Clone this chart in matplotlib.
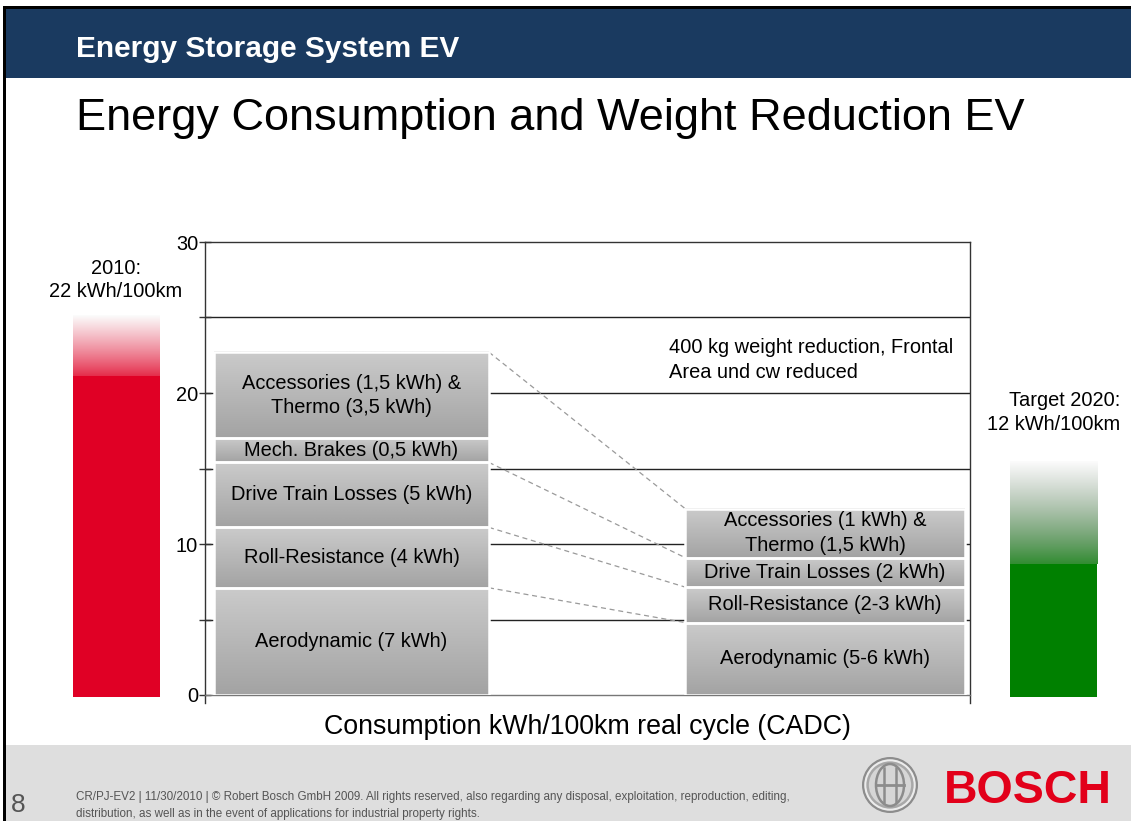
import numpy as np
import matplotlib
matplotlib.use('Agg')
import matplotlib.pyplot as plt
import matplotlib.colors as mcolors
from matplotlib.patches import Rectangle, Circle, Ellipse

plt.rcParams['font.family'] = ['Liberation Sans', 'DejaVu Sans']

W, H = 1131, 821

# consumption breakdown, bottom to top (kWh/100km)
labels_2010 = ['Aerodynamic (7 kWh)', 'Roll-Resistance (4 kWh)', 'Drive Train Losses (5 kWh)',
               'Mech. Brakes (0,5 kWh)', 'Accessories (1,5 kWh) &\nThermo (3,5 kWh)']
values_2010 = [7.1, 4.0, 4.3, 1.6, 5.7]
labels_2020 = ['Aerodynamic (5-6 kWh)', 'Roll-Resistance (2-3 kWh)', 'Drive Train Losses (2 kWh)',
               'Accessories (1 kWh) &\nThermo (1,5 kWh)']
values_2020 = [4.8, 2.35, 1.95, 3.25]
# segment of 2010 joined to segment of 2020 by a dashed line
links = [(0, 0), (1, 1), (2, 2), (4, 3)]

total_2010 = 22
total_2020 = 12
fade_2010 = [21.1, 25.1]   # solid top, faded top
fade_2020 = [8.7, 15.5]

yticks = [0, 10, 20, 30]
ygrid = [5, 10, 15, 20, 25]


def fx(x):
    return x / W


def fy(y):
    return 1 - y / H


fig = plt.figure(figsize=(W / 100, H / 100), dpi=100)
fig.patch.set_facecolor('white')

# slide frame, header and footer
fig.add_artist(Rectangle((fx(4), fy(78)), 1, fy(9) - fy(78), transform=fig.transFigure,
                         fc='#1a3a60', ec='none', zorder=0))
fig.add_artist(Rectangle((fx(3), fy(9)), 1, 2.5 / H, transform=fig.transFigure, fc='black', ec='none'))
fig.add_artist(Rectangle((fx(3), 0), 2.5 / W, fy(7), transform=fig.transFigure, fc='black', ec='none'))
fig.add_artist(Rectangle((fx(5.5), 0), 1, fy(745), transform=fig.transFigure,
                         fc='#dedede', ec='none', zorder=0))

fig.text(fx(76), fy(57), 'Energy Storage System EV', color='white', fontsize=21.5,
         fontweight='bold', va='baseline')
fig.text(fx(76), fy(130), 'Energy Consumption and Weight Reduction EV', fontsize=32.5,
         va='baseline')
fig.text(fx(11), fy(812), '8', fontsize=19, color='#555555', va='baseline')
fig.text(fx(76), fy(805.5),
         'CR/PJ-EV2 | 11/30/2010 | \u00a9 Robert Bosch GmbH 2009. All rights reserved, also regarding any disposal, '
         'exploitation, reproduction, editing,\ndistribution, as well as in the event of applications for '
         'industrial property rights.', fontsize=8.4, color='#555555', va='center', linespacing=1.45)
fig.text(fx(944), fy(803), 'BOSCH', fontsize=33.5, fontweight='bold', color='#e2001a', va='baseline')

# armature emblem
lax = fig.add_axes([fx(862), fy(813), 56 / W, 56 / H])
lax.set_xlim(-1, 1)
lax.set_ylim(-1, 1)
lax.set_aspect('equal')
lax.axis('off')
lax.add_patch(Circle((0, 0), 0.96, fc='#ececec', ec='#8c8c8c', lw=1.6))
lax.add_patch(Circle((0, 0), 0.8, fc='#d6d6d6', ec='#a8a8a8', lw=1.8))
lax.add_patch(Ellipse((0, 0), 1.0, 1.5, fc='none', ec='#8c8c8c', lw=1.8))
lax.plot([-0.22, -0.22], [-0.62, 0.62], color='#8c8c8c', lw=1.8)
lax.plot([0.22, 0.22], [-0.62, 0.62], color='#8c8c8c', lw=1.8)
lax.plot([-0.5, 0.5], [0, 0], color='#8c8c8c', lw=2)

# main chart, x in pixel-like units across the plot box
ax = fig.add_axes([fx(205), fy(695), 765 / W, 453 / H])
ax.set_facecolor('none')


def gradient_box(x0, x1, y0, y1, text):
    bottom = np.array(mcolors.to_rgb('#a3a3a3'))
    top = np.array(mcolors.to_rgb('#cbcbcb'))
    t = np.linspace(0, 1, 64)[:, None]
    img = (bottom + (top - bottom) * t)[:, None, :]
    ax.imshow(img, extent=[x0, x1, y0, y1], origin='lower', aspect='auto', zorder=2,
              interpolation='bilinear')
    ax.add_patch(Rectangle((x0, y0), x1 - x0, y1 - y0, fill=False, ec='white', lw=1.8, zorder=3))
    ax.text((x0 + x1) / 2, (y0 + y1) / 2, text, ha='center', va='center', fontsize=14.4,
            linespacing=1.35, zorder=4)


def fade_bar(x0, x1, solid_top, fade_top, color, desat):
    ax.add_patch(Rectangle((x0, -0.15), x1 - x0, solid_top + 0.15, fc=color, ec='none',
                           clip_on=False, zorder=2))
    c = np.array(mcolors.to_rgb(color))
    t = (np.linspace(0.12, 1, 64) ** 0.8)[:, None]
    rgb = c * (1 - t) + 0.985 * t
    gray = rgb.mean(axis=1, keepdims=True)
    rgb = rgb * (1 - desat * t) + gray * desat * t
    im = ax.imshow(rgb[:, None, :], extent=[x0, x1, solid_top, fade_top], origin='lower',
                   aspect='auto', zorder=2, interpolation='bilinear')
    im.set_clip_on(False)


left_x = (9, 284)
right_x = (480, 760)

b2010 = np.concatenate([[0], np.cumsum(values_2010)])
b2020 = np.concatenate([[0], np.cumsum(values_2020)])
for i, lab in enumerate(labels_2010):
    gradient_box(left_x[0], left_x[1], b2010[i], b2010[i + 1], lab)
for i, lab in enumerate(labels_2020):
    gradient_box(right_x[0], right_x[1], b2020[i], b2020[i + 1], lab)

for a, b in links:
    ax.plot([left_x[1], right_x[0]], [b2010[a + 1], b2020[b + 1]], color='#9a9a9a',
            lw=0.9, ls=(0, (4, 3)), zorder=1)

fade_bar(-132, -45, fade_2010[0], fade_2010[1], '#e00025', 0.0)
fade_bar(805, 892, fade_2020[0], fade_2020[1], '#008000', 0.75)

ax.text(-89, 27.5, '2010:\n%d kWh/100km' % total_2010, ha='center', va='center', fontsize=14.4,
        linespacing=1.3)
ax.text(915, 18.7, 'Target 2020:\n%d kWh/100km' % total_2020, ha='right', va='center',
        fontsize=14.4, linespacing=1.35)
ax.text(464, 22.2, '400 kg weight reduction, Frontal\nArea und cw reduced', ha='left',
        va='center', fontsize=14.4, linespacing=1.38)

for g in ygrid:
    ax.axhline(g, color='#222222', lw=1.0, zorder=0.5)

ax.set_xlim(0, 765)
ax.set_ylim(0, 30)
ax.set_xticks([])
ax.set_yticks(yticks)
ax.set_yticks(ygrid, minor=True)
ax.tick_params(axis='y', which='both', direction='inout', length=8, width=1, color='#333333',
               labelsize=14.4, pad=1)
for s in ['left', 'right']:
    ax.spines[s].set_bounds(-0.55, 30)
for s in ax.spines.values():
    s.set_color('#333333')
    s.set_linewidth(1.0)
ax.spines['bottom'].set_color('#777777')

ax.set_xlabel('Consumption kWh/100km real cycle (CADC)', fontsize=19.3, labelpad=14)

fig.savefig('out.png', dpi=100)
